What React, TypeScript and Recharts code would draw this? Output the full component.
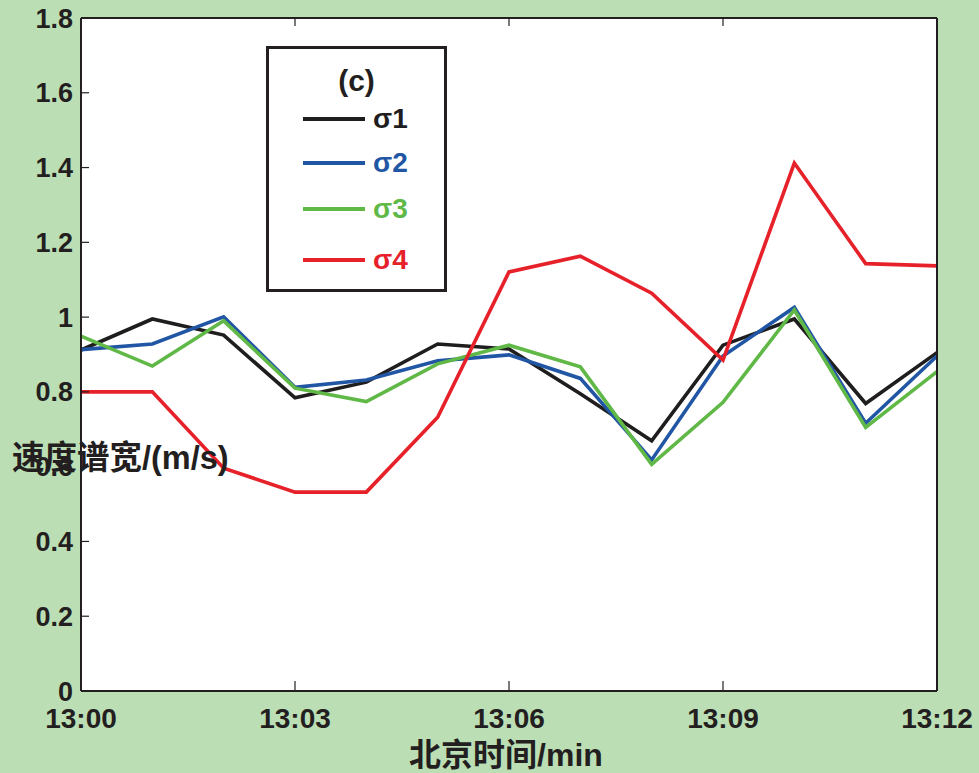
import { LineChart, Line, XAxis, YAxis, CartesianGrid } from 'recharts'

const minutes = [0, 1, 2, 3, 4, 5, 6, 7, 8, 9, 10, 11, 12]
const timeLabels = ['13:00', '13:01', '13:02', '13:03', '13:04', '13:05', '13:06', '13:07', '13:08', '13:09', '13:10', '13:11', '13:12']
const xTicks = [0, 3, 6, 9, 12]
const yTicks = [0, 0.2, 0.4, 0.6, 0.8, 1, 1.2, 1.4, 1.6, 1.8]

const sigma1 = [0.912, 0.995, 0.952, 0.784, 0.826, 0.928, 0.915, 0.795, 0.669, 0.925, 0.995, 0.769, 0.905]
const sigma2 = [0.913, 0.928, 1.001, 0.812, 0.832, 0.883, 0.899, 0.836, 0.618, 0.896, 1.026, 0.716, 0.896]
const sigma3 = [0.949, 0.869, 0.99, 0.81, 0.774, 0.875, 0.925, 0.867, 0.606, 0.772, 1.019, 0.705, 0.854]
const sigma4 = [0.8, 0.8, 0.596, 0.532, 0.532, 0.732, 1.121, 1.163, 1.064, 0.885, 1.412, 1.143, 1.137]

const series = [
  { key: 's1', name: 'σ1', color: '#1f1d1d' },
  { key: 's2', name: 'σ2', color: '#2156a4' },
  { key: 's3', name: 'σ3', color: '#60b847' },
  { key: 's4', name: 'σ4', color: '#e6212a' },
]

const data = minutes.map((m, i) => ({
  t: m,
  s1: sigma1[i],
  s2: sigma2[i],
  s3: sigma3[i],
  s4: sigma4[i],
}))

const INK = '#231f20'
const BG = '#bcdeb5'
const FONT = "'Liberation Sans', Arial, 'Noto Sans CJK SC', sans-serif"
const xTickFont = { fill: INK, fontSize: 28, fontWeight: 700, fontFamily: FONT }
const yTickFont = { fill: INK, fontSize: 27, fontWeight: 700, fontFamily: FONT }

const NoLabel = () => <g />

export default function App() {
  return (
    <div
      style={{
        position: 'absolute',
        left: 0,
        top: 0,
        width: 979,
        height: 773,
        background: BG,
        fontFamily: FONT,
        overflow: 'hidden',
      }}
    >
      <LineChart width={979} height={773} data={data} margin={{ top: 17, right: 41, left: 0, bottom: 0 }}>
        <CartesianGrid fill="#ffffff" horizontal={false} vertical={false} stroke="none" />
        <XAxis
          dataKey="t"
          type="number"
          domain={[0, 12]}
          ticks={xTicks}
          interval={0}
          height={82}
          tickFormatter={(v) => timeLabels[v] ?? ''}
          tick={xTickFont}
          tickSize={-10}
          tickMargin={27}
          axisLine={{ stroke: INK, strokeWidth: 2 }}
          tickLine={{ stroke: INK, strokeWidth: 1.2 }}
        />
        <XAxis
          xAxisId="top"
          orientation="top"
          dataKey="t"
          type="number"
          domain={[0, 12]}
          ticks={xTicks}
          interval={0}
          height={1}
          tick={NoLabel}
          tickSize={-8}
          axisLine={{ stroke: INK, strokeWidth: 2 }}
          tickLine={{ stroke: INK, strokeWidth: 1.2 }}
        />
        <YAxis
          type="number"
          domain={[0, 1.8]}
          ticks={yTicks}
          interval={0}
          width={81}
          tick={yTickFont}
          tickSize={-8}
          tickMargin={16}
          axisLine={{ stroke: INK, strokeWidth: 2 }}
          tickLine={{ stroke: INK, strokeWidth: 1.2 }}
        />
        <YAxis
          yAxisId="right"
          orientation="right"
          type="number"
          domain={[0, 1.8]}
          ticks={yTicks}
          interval={0}
          width={1}
          tick={NoLabel}
          tickSize={-8}
          axisLine={{ stroke: INK, strokeWidth: 2 }}
          tickLine={{ stroke: INK, strokeWidth: 1.2 }}
        />
        {series.map((s) => (
          <Line
            key={s.key}
            type="linear"
            dataKey={s.key}
            name={s.name}
            stroke={s.color}
            strokeWidth={3.6}
            dot={false}
            activeDot={false}
            isAnimationActive={false}
          />
        ))}
      </LineChart>

      {/* legend box */}
      <div
        style={{
          position: 'absolute',
          left: 266,
          top: 46,
          width: 181,
          height: 246,
          boxSizing: 'border-box',
          border: `3px solid ${INK}`,
          background: '#fff',
        }}
      >
        <div
          style={{
            position: 'absolute',
            left: 0,
            width: '100%',
            top: 15,
            textAlign: 'center',
            fontSize: 30,
            fontWeight: 700,
            color: INK,
            lineHeight: '34px',
          }}
        >
          (c)
        </div>
        {series.map((s, i) => {
          const rowY = [70, 114, 160, 211][i]
          return (
            <div key={s.key} style={{ position: 'absolute', left: 0, top: rowY - 16, height: 32, width: '100%' }}>
              <div
                style={{
                  position: 'absolute',
                  left: 34,
                  top: 14,
                  width: 62,
                  height: 4,
                  background: s.color,
                }}
              />
              <div
                style={{
                  position: 'absolute',
                  left: 104,
                  top: 0,
                  lineHeight: '32px',
                  fontSize: 28,
                  fontWeight: 700,
                  color: s.color,
                }}
              >
                {s.name}
              </div>
            </div>
          )
        })}
      </div>

      {/* axis titles */}
      <div
        style={{
          position: 'absolute',
          left: 12,
          top: 439,
          fontSize: 32.5,
          fontWeight: 700,
          color: INK,
          lineHeight: '38px',
          whiteSpace: 'nowrap',
        }}
      >
        速度谱宽/(m/s)
      </div>
      <div
        style={{
          position: 'absolute',
          left: 306,
          width: 400,
          top: 736,
          textAlign: 'center',
          fontSize: 32,
          fontWeight: 700,
          color: INK,
          lineHeight: '38px',
          whiteSpace: 'nowrap',
        }}
      >
        北京时间/min
      </div>
    </div>
  )
}
